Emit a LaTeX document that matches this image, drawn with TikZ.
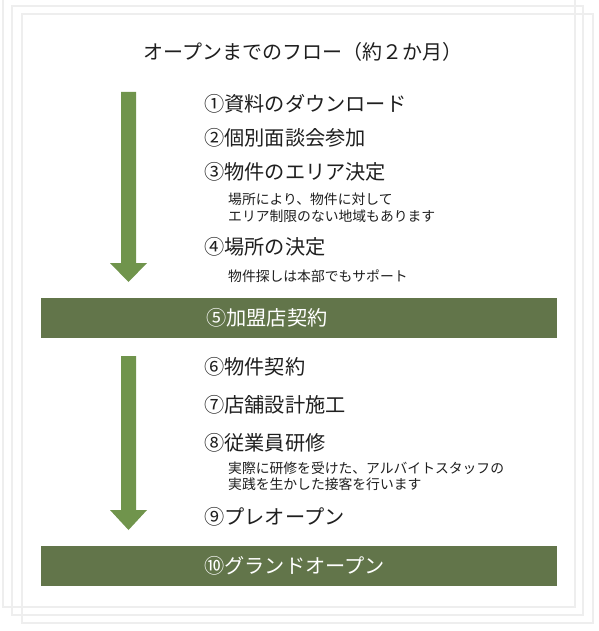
\documentclass[tikz,border=0pt]{standalone}
\usepackage{fontspec}
\setmainfont{Noto Sans CJK JP}
\definecolor{bargreen}{RGB}{98,117,74}
\definecolor{arrowgreen}{RGB}{112,148,76}
\definecolor{sheetline}{RGB}{238,238,238}
\begin{document}
\begin{tikzpicture}[x=1pt,y=-1pt,
  sheet/.style={draw=sheetline,line width=1.1pt},
  title/.style={inner sep=0pt,font=\fontsize{20}{23}\selectfont,text=black!88},
  item/.style={anchor=west,inner sep=0pt,font=\fontsize{20.2}{23}\selectfont,text=black!88},
  note/.style={anchor=west,inner sep=0pt,align=left,font=\fontsize{13.8}{16.5}\selectfont,text=black!88},
  bar/.style={fill=bargreen,draw=none},
  bartext/.style={anchor=west,inner sep=0pt,font=\fontsize{20.2}{23}\selectfont,text=white},
  bigarrow/.style={fill=arrowgreen,draw=none}]
\useasboundingbox (0,0) rectangle (598,631);
\fill[white] (0,0) rectangle (598,631);
% stacked sheets
\draw[sheet] (22,14) rectangle (593,623);
\draw[sheet] (12,6) rectangle (583,615);
\draw[sheet] (3,-2) rectangle (575,607);
% title
\node[title] (title) at (303,52) {オープンまでのフロー（約２か月）};
% first arrow
\fill[bigarrow] (121,92) -- (136,92) -- (136,263) -- (147,263) -- (128.5,282) -- (110,263) -- (121,263) -- cycle;
\node[item] (s1) at (204,104) {①資料のダウンロード};
\node[item] (s2) at (204,138) {②個別面談会参加};
\node[item] (s3) at (204,172) {③物件のエリア決定};
\node[note] (n3) at (228,208) {場所により、物件に対して\\エリア制限のない地域もあります};
\node[item] (s4) at (204,247) {④場所の決定};
\node[note] (n4) at (228,276) {物件探しは本部でもサポート};
% bar 1
\fill[bar] (41,298) rectangle (557,338);
\node[bartext] (s5) at (206,318) {⑤加盟店契約};
% second arrow
\fill[bigarrow] (121,356) -- (136,356) -- (136,510) -- (147,510) -- (128.5,530) -- (110,510) -- (121,510) -- cycle;
\node[item] (s6) at (204,367) {⑥物件契約};
\node[item] (s7) at (204,405) {⑦店舗設計施工};
\node[item] (s8) at (204,443) {⑧従業員研修};
\node[note] (n8) at (228,476) {実際に研修を受けた、アルバイトスタッフの\\実践を生かした接客を行います};
\node[item] (s9) at (204,517) {⑨プレオープン};
% bar 2
\fill[bar] (41,546) rectangle (557,586);
\node[bartext] (s10) at (204,566) {⑩グランドオープン};
\end{tikzpicture}
\end{document}
